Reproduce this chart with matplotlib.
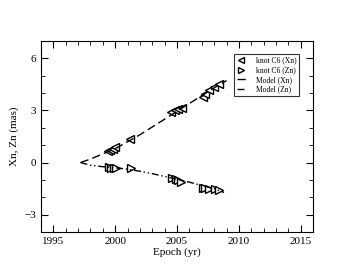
import matplotlib
matplotlib.use("Agg")
import matplotlib.pyplot as plt
from matplotlib.ticker import MultipleLocator

plt.rcParams['font.family'] = ['Liberation Serif', 'DejaVu Serif']

# observed knot C6 positions
epoch_xn = [1999.4, 1999.6, 1999.8, 2000.0, 2001.2, 2004.5, 2004.8, 2005.1, 2005.4,
            2007.1, 2007.3, 2007.6, 2008.0, 2008.4]
xn = [0.65, 0.72, 0.8, 0.88, 1.38, 2.92, 3.0, 3.08, 3.15, 3.8, 3.92, 4.15, 4.35, 4.5]

epoch_zn = [1999.5, 1999.7, 1999.9, 2000.1, 2001.3, 2004.6, 2004.9, 2005.1, 2005.3,
            2007.1, 2007.3, 2007.6, 2008.1, 2008.4]
zn = [-0.28, -0.3, -0.3, -0.3, -0.33, -0.9, -0.95, -1.0, -1.12, -1.45, -1.48, -1.5, -1.55, -1.6]

# model curves
model_t = [1997.2, 1998, 1999, 2000, 2001, 2002, 2003, 2004, 2005, 2006, 2007, 2008, 2009]
model_xn = [0.0, 0.2, 0.5, 0.8, 1.2, 1.6, 2.05, 2.5, 2.95, 3.4, 3.85, 4.3, 4.72]
model_zn = [0.0, -0.15, -0.24, -0.3, -0.38, -0.5, -0.64, -0.8, -0.96, -1.13, -1.32, -1.5, -1.72]
model_zn_t = [1997.2, 1998, 1999, 2000, 2001, 2002, 2003, 2004, 2005, 2006, 2007, 2008, 2008.8]

fig = plt.figure(figsize=(3.53, 2.73), dpi=100)
ax = fig.add_axes([0.116, 0.150, 0.771, 0.700])

ax.plot(epoch_xn, xn, linestyle='none', marker='<', markersize=5.5,
        markerfacecolor='white', markeredgecolor='black', markeredgewidth=1.0,
        label='knot C6 (Xn)')
ax.plot(epoch_zn, zn, linestyle='none', marker='>', markersize=5.5,
        markerfacecolor='white', markeredgecolor='black', markeredgewidth=1.0,
        label='knot C6 (Zn)')
ax.plot(model_t, model_xn, color='black', linewidth=1.0,
        linestyle=(0, (6, 3)), label='Model (Xn)')
ax.plot(model_zn_t, model_zn, color='black', linewidth=1.0,
        linestyle=(0, (5, 2, 1, 2, 1, 2)), label='Model (Zn)')

ax.set_xlim(1994, 2016)
ax.set_ylim(-4, 7)
ax.xaxis.set_major_locator(MultipleLocator(5))
ax.xaxis.set_minor_locator(MultipleLocator(1))
ax.yaxis.set_major_locator(MultipleLocator(3))
ax.yaxis.set_minor_locator(MultipleLocator(1))
ax.tick_params(which='both', direction='in', top=True, right=True, labelsize=8)
ax.tick_params(which='major', length=5)
ax.tick_params(which='minor', length=3)

ax.set_xlabel('Epoch (yr)', fontsize=8, labelpad=1)
ax.set_ylabel('Xn, Zn (mas)', fontsize=8)

leg = ax.legend(loc='upper right', bbox_to_anchor=(0.949, 0.932), borderaxespad=0,
                fontsize=5.5, frameon=True, fancybox=False, edgecolor='black',
                handlelength=1.2, handletextpad=1.3, borderpad=0.35,
                labelspacing=0.22, markerscale=0.9)
leg.get_frame().set_linewidth(0.8)

fig.savefig('out.png', dpi=100)
